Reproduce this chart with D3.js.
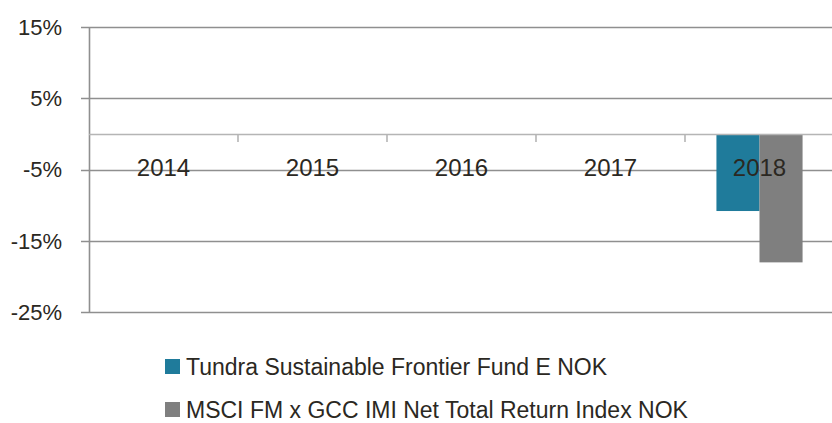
<!DOCTYPE html>
<html>
<head>
<meta charset="utf-8">
<script src="https://cdn.jsdelivr.net/npm/d3@7"></script>
<style>
  body { margin: 0; background: #fff; }
  text { font-family: "Liberation Sans", Arial, sans-serif; fill: #2b2822; }
</style>
</head>
<body>
<div id="chart"></div>
<script>
// chart data
const years = ["2014", "2015", "2016", "2017", "2018"];
const seriesNames = ["Tundra Sustainable Frontier Fund E NOK", "MSCI FM x GCC IMI Net Total Return Index NOK"];
const fundValues = [null, null, null, null, -10.8];
const indexValues = [null, null, null, null, -18.0];
const yTicks = [15, 5, -5, -15, -25];
const seriesColors = ["#1f7b9b", "#7f7f7f"];

const width = 832, height = 423;
const margin = {top: 27, left: 89, bottom: 111};
const plotRight = 834; // plot runs slightly off the canvas

const svg = d3.select("#chart").append("svg")
    .attr("width", width)
    .attr("height", height);

const y = d3.scaleLinear()
    .domain([-25, 15])
    .range([height - margin.bottom + 0.3, margin.top]);

const x = d3.scaleBand()
    .domain(years)
    .range([margin.left, plotRight]);

const inner = d3.scaleBand()
    .domain([0, 1])
    .range([0, x.bandwidth()])
    .paddingInner(0)
    .paddingOuter(0.73);

// horizontal gridlines + left ticks
svg.append("g")
    .selectAll("line")
    .data(yTicks)
    .join("line")
    .attr("x1", margin.left - 8)
    .attr("x2", plotRight)
    .attr("y1", d => Math.round(y(d)) + 0.5)
    .attr("y2", d => Math.round(y(d)) + 0.5)
    .attr("stroke", "#8f8f8f")
    .attr("stroke-width", 1.6);

// y tick labels
svg.append("g")
    .selectAll("text")
    .data(yTicks)
    .join("text")
    .attr("x", 62)
    .attr("y", d => y(d))
    .attr("dy", "0.35em")
    .attr("text-anchor", "end")
    .style("font-size", "22px")
    .text(d => d + "%");

// vertical axis
svg.append("line")
    .attr("x1", margin.left + 0.5).attr("x2", margin.left + 0.5)
    .attr("y1", y(15)).attr("y2", y(-25))
    .attr("stroke", "#8f8f8f")
    .attr("stroke-width", 1.6);

// bars
const data = years.map((yr, i) => ({year: yr, values: [fundValues[i], indexValues[i]]}));
const groups = svg.append("g")
    .selectAll("g")
    .data(data)
    .join("g")
    .attr("transform", d => `translate(${x(d.year)},0)`);

groups.selectAll("rect")
    .data(d => d.values.map((v, k) => ({k: k, v: v})).filter(e => e.v !== null))
    .join("rect")
    .attr("x", d => inner(d.k))
    .attr("width", inner.bandwidth())
    .attr("y", d => y(Math.max(0, d.v)))
    .attr("height", d => Math.abs(y(d.v) - y(0)))
    .attr("fill", d => seriesColors[d.k]);

// category axis at zero
svg.append("line")
    .attr("x1", margin.left).attr("x2", plotRight)
    .attr("y1", Math.round(y(0)) + 0.5).attr("y2", Math.round(y(0)) + 0.5)
    .attr("stroke", "#b5b5b5")
    .attr("stroke-width", 1.6);

svg.append("g")
    .selectAll("line")
    .data(years.slice(1))
    .join("line")
    .attr("x1", d => x(d)).attr("x2", d => x(d))
    .attr("y1", y(0)).attr("y2", y(0) + 8)
    .attr("stroke", "#b5b5b5")
    .attr("stroke-width", 1.6);

// year labels
svg.append("g")
    .selectAll("text")
    .data(years)
    .join("text")
    .attr("x", d => x(d) + x.bandwidth() / 2)
    .attr("y", 168)
    .attr("dy", "0.35em")
    .attr("text-anchor", "middle")
    .style("font-size", "24px")
    .text(d => d);

// legend
const legend = svg.append("g")
    .selectAll("g")
    .data(seriesNames)
    .join("g")
    .attr("transform", (d, i) => `translate(165,${366.5 + i * 43})`);

legend.append("rect")
    .attr("x", 0).attr("y", -7.5)
    .attr("width", 15).attr("height", 15)
    .attr("fill", (d, i) => seriesColors[i]);

legend.append("text")
    .attr("x", 21)
    .attr("y", 0)
    .attr("dy", "0.35em")
    .style("font-size", "23px")
    .text(d => d);
</script>
</body>
</html>
